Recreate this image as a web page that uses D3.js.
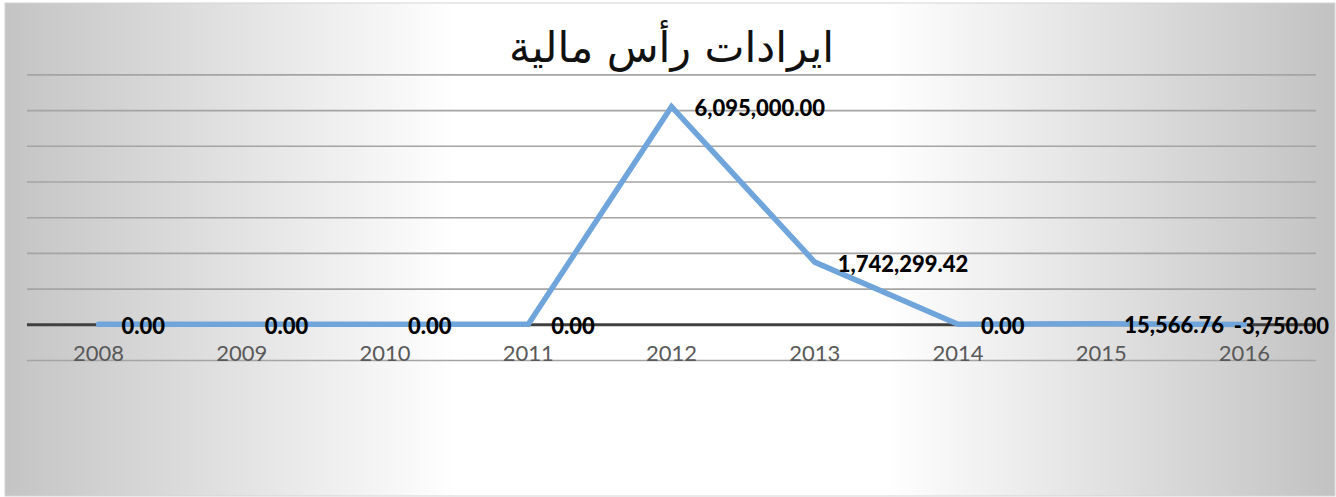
<!DOCTYPE html>
<html>
<head>
<meta charset="utf-8">
<script src="https://cdn.jsdelivr.net/npm/d3@7"></script>
<style>
  html, body { margin: 0; padding: 0; background: #fff; }
  svg { display: block; }
</style>
</head>
<body>
<div class="line-chart"></div>
<script>
var years = ["2008", "2009", "2010", "2011", "2012", "2013", "2014", "2015", "2016"];
var values = [0, 0, 0, 0, 6095000, 1742299.42, 0, 15566.76, -3750];
var labels = ["0.00", "0.00", "0.00", "0.00", "6,095,000.00", "1,742,299.42", "0.00", "15,566.76", "-3,750.00"];
var yTicks = [-1000000, 0, 1000000, 2000000, 3000000, 4000000, 5000000, 6000000, 7000000];
var title = "ايرادات رأس مالية";

var W = 1336, H = 497;
var box = {left: 5, top: 3, right: 1335, bottom: 496};
var plot = {left: 27, right: 1316, top: 74.4, bottom: 360};

var svg = d3.select(".line-chart").append("svg")
    .attr("width", W)
    .attr("height", H);

var defs = svg.append("defs");
var grad = defs.append("linearGradient")
    .attr("id", "bg")
    .attr("x1", "0%").attr("x2", "100%")
    .attr("y1", "0%").attr("y2", "0%");
grad.append("stop").attr("offset", "0%").attr("stop-color", "#c4c4c4");
grad.append("stop").attr("offset", "34%").attr("stop-color", "#ffffff");
grad.append("stop").attr("offset", "66%").attr("stop-color", "#ffffff");
grad.append("stop").attr("offset", "100%").attr("stop-color", "#c2c2c2");

svg.append("rect")
    .attr("x", box.left)
    .attr("y", box.top)
    .attr("width", box.right - box.left)
    .attr("height", box.bottom - box.top)
    .style("fill", "url(#bg)")
    .style("stroke", "#d4d4d4")
    .style("stroke-width", 1);

var x = d3.scalePoint()
    .domain(years)
    .range([plot.left, plot.right])
    .padding(0.5);

var y = d3.scaleLinear()
    .domain([-1000000, 7000000])
    .range([plot.bottom, plot.top]);

// gridlines
var grid = svg.append("g")
    .attr("transform", "translate(" + plot.left + ",0)")
    .call(d3.axisLeft(y).tickValues(yTicks).tickSize(-(plot.right - plot.left)).tickFormat(""));
grid.select(".domain").remove();
grid.selectAll(".tick line")
    .style("stroke", function(d) { return d === 0 ? "#404040" : "#a4a4a4"; })
    .style("stroke-width", function(d) { return d === 0 ? 3 : 1.6; });

// category labels
svg.append("g").selectAll("text")
    .data(years)
  .enter().append("text")
    .attr("x", function(d) { return x(d); })
    .attr("y", 361)
    .attr("text-anchor", "middle")
    .style("font-family", "Lato, 'Open Sans', sans-serif")
    .style("font-size", "22px")
    .style("fill", "#595959")
    .text(function(d) { return d; });

var points = years.map(function(yr, i) { return {year: yr, value: values[i], label: labels[i]}; });

var line = d3.line()
    .x(function(d) { return x(d.year); })
    .y(function(d) { return y(d.value); });

svg.append("path")
    .datum(points)
    .attr("d", line)
    .style("fill", "none")
    .style("stroke", "#6fa5da")
    .style("stroke-width", 5.5)
    .style("stroke-linejoin", "miter")
    .style("stroke-linecap", "round");

// data labels
var dl = svg.append("g").selectAll("text")
    .data(points)
  .enter().append("text")
    .attr("y", function(d) { return y(d.value) + 2; })
    .attr("dy", "0.35em")
    .style("font-family", "Lato, 'Open Sans', sans-serif")
    .style("font-weight", "900")
    .style("font-size", "22px")
    .style("fill", "#000")
    .text(function(d) { return d.label; });
dl.attr("x", function(d) {
  var w = this.getComputedTextLength();
  return Math.min(x(d.year) + 23, box.right - 6 - w);
});

// title
svg.append("text")
    .attr("x", (plot.left + plot.right) / 2)
    .attr("y", 62)
    .attr("text-anchor", "middle")
    .style("font-family", "'DejaVu Sans', sans-serif")
    .style("font-size", "42.5px")
    .style("fill", "#111")
    .text(title);
</script>
</body>
</html>
